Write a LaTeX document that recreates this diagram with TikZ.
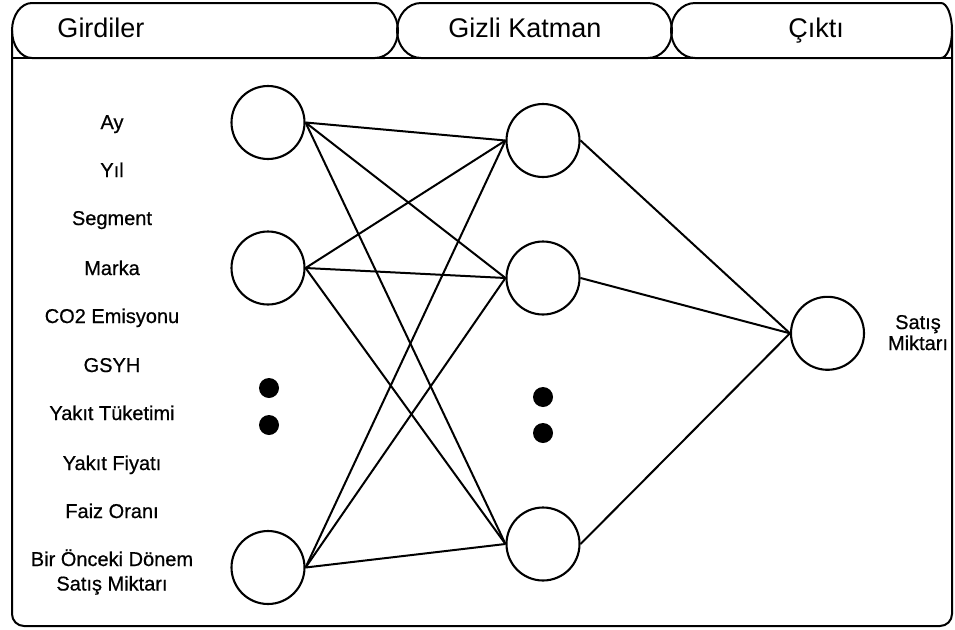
\documentclass[tikz,border=0pt]{standalone}
\usepackage{fontspec}
\setmainfont{Liberation Sans}
\newfontfamily\lblfont[FakeBold=0.6]{Liberation Sans}
\begin{document}
\begin{tikzpicture}[x=1pt,y=-1pt,
  neuron/.style={circle,draw,line width=2.1pt,minimum size=73pt,inner sep=0pt,fill=white},
  dotnode/.style={circle,fill=black,minimum size=20pt,inner sep=0pt},
  conn/.style={line width=2pt},
  frameline/.style={line width=2pt},
  headtext/.style={anchor=base,font=\fontsize{27}{30}\selectfont},
  lbl/.style={anchor=base,font=\lblfont\fontsize{20}{24}\selectfont,align=center}]
\useasboundingbox (0,0) rectangle (955,629);

% outer frame
\draw[frameline,rounded corners=12pt] (12,30.5) -- (12,626) -- (952,626) -- (952,30.5);
\draw[frameline] (12,58) -- (952,58);

% header shapes
\draw[frameline] (32,3) -- (375,3) .. controls (387.7,3) and (398,15.3) .. (398,30.5)
  .. controls (398,45.7) and (387.7,58) .. (375,58) -- (32,58)
  .. controls (21,58) and (12,45.7) .. (12,30.5) .. controls (12,15.3) and (21,3) .. (32,3) -- cycle;
\draw[frameline] (421,3) -- (648,3) .. controls (661.3,3) and (672,15.3) .. (672,30.5)
  .. controls (672,45.7) and (661.3,58) .. (648,58) -- (421,58)
  .. controls (407.7,58) and (397,45.7) .. (397,30.5) .. controls (397,15.3) and (407.7,3) .. (421,3) -- cycle;
\draw[frameline] (695,3) -- (941,3) .. controls (947.1,3) and (952,15.3) .. (952,30.5)
  .. controls (952,45.7) and (947.1,58) .. (941,58) -- (695,58)
  .. controls (681.7,58) and (671,45.7) .. (671,30.5) .. controls (671,15.3) and (681.7,3) .. (695,3) -- cycle;

\node[headtext] (hg) at (101,37) {Girdiler};
\node[headtext] (hk) at (525,37) {Gizli Katman};
\node[headtext] (hc) at (816,37) {Çıktı};

% input labels
\node[lbl] (l1) at (112,129) {Ay};
\node[lbl] (l2) at (112,177) {Yıl};
\node[lbl] (l3) at (112,225) {Segment};
\node[lbl] (l4) at (112,275) {Marka};
\node[lbl] (l5) at (112,323) {CO2 Emisyonu};
\node[lbl] (l6) at (112,372) {GSYH};
\node[lbl] (l7) at (112,420) {Yakıt Tüketimi};
\node[lbl] (l8) at (112,470) {Yakıt Fiyatı};
\node[lbl] (l9) at (112,518) {Faiz Oranı};
\node[lbl,font=\lblfont\fontsize{20}{24.5}\selectfont] (l10) at (112,590.5) {Bir Önceki Dönem\\Satış Miktarı};
\node[lbl,font=\lblfont\fontsize{20}{21}\selectfont] (lo) at (918,350) {Satış\\Miktarı};

% neurons
\node[neuron] (i1) at (268,122.5) {};
\node[neuron] (i2) at (268,268) {};
\node[neuron] (i3) at (268,567.5) {};
\node[neuron] (h1) at (543,140.5) {};
\node[neuron] (h2) at (543,278) {};
\node[neuron] (h3) at (543,544) {};
\node[neuron] (o1) at (827.5,333.3) {};

% ellipsis dots
\node[dotnode] (d1) at (269,388) {};
\node[dotnode] (d2) at (269,425) {};
\node[dotnode] (d3) at (543,397) {};
\node[dotnode] (d4) at (543,433) {};

% connections
\foreach \a in {i1,i2,i3}{
  \foreach \b in {h1,h2,h3}{
    \draw[conn] (\a.east) -- (\b.west);
  }
}
\foreach \b in {h1,h2,h3}{
  \draw[conn] (\b.east) -- (o1.west);
}
\end{tikzpicture}
\end{document}
